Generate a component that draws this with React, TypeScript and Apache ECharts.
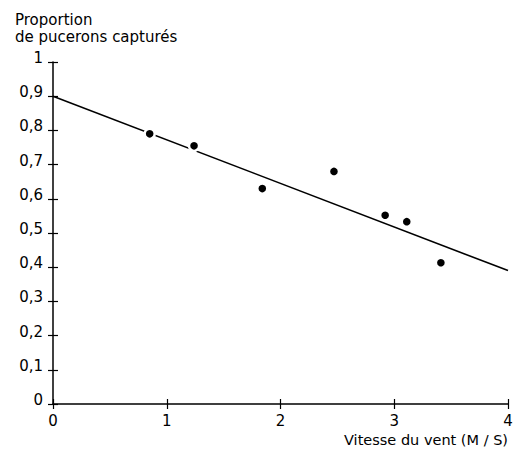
import React, { useEffect, useRef } from "react";
import * as echarts from "echarts";

// Observed points: wind speed (m/s) vs proportion of aphids captured
const windSpeed = [0.85, 1.24, 1.84, 2.47, 2.92, 3.11, 3.41];
const proportion = [0.79, 0.755, 0.63, 0.68, 0.552, 0.533, 0.413];

// Fitted regression line end points
const fitX = [0, 4];
const fitY = [0.9, 0.39];

const yAxisTitle = "Proportion\nde pucerons capturés";
const xAxisTitle = "Vitesse du vent (M / S)";

const FONT = "DejaVu Sans";

const fmt = (v: number) => String(Math.round(v * 10) / 10).replace(".", ",");

export default function App() {
  const ref = useRef<HTMLDivElement>(null);
  useEffect(() => {
    if (!ref.current) return;
    const chart = echarts.init(ref.current, undefined, { renderer: "svg" });
    const axisLineStyle = { color: "#000", width: 1.5 };
    const tickStyle = { color: "#000", width: 1.2 };
    chart.setOption({
      animation: false,
      backgroundColor: "#fff",
      grid: { left: 53, right: 8, top: 62, bottom: 46, containLabel: false },
      xAxis: [
        {
          type: "value",
          min: 0,
          max: 4,
          interval: 1,
          position: "bottom",
          axisLine: { show: true, lineStyle: axisLineStyle },
          axisTick: { show: true, length: 5, lineStyle: tickStyle },
          axisLabel: {
            margin: 9,
            color: "#000",
            fontSize: 15,
            lineHeight: 15,
            fontFamily: FONT,
            formatter: fmt,
          },
          splitLine: { show: false },
        },
        {
          type: "value",
          min: 0,
          max: 4,
          interval: 1,
          position: "bottom",
          axisLine: { show: false },
          axisTick: { show: true, inside: true, length: 5, lineStyle: tickStyle },
          axisLabel: { show: false },
          splitLine: { show: false },
        },
      ],
      yAxis: [
        {
          type: "value",
          min: 0,
          max: 1,
          interval: 0.1,
          position: "left",
          axisLine: { show: true, lineStyle: axisLineStyle },
          axisTick: { show: true, length: 5, lineStyle: tickStyle },
          axisLabel: {
            margin: 10,
            color: "#000",
            fontSize: 15,
            fontFamily: FONT,
            verticalAlign: "bottom",
            lineHeight: 8,
            formatter: fmt,
          },
          splitLine: { show: false },
        },
        {
          type: "value",
          min: 0,
          max: 1,
          interval: 0.1,
          position: "left",
          axisLine: { show: false },
          axisTick: { show: true, inside: true, length: 5, lineStyle: tickStyle },
          axisLabel: { show: false },
          splitLine: { show: false },
        },
      ],
      graphic: [
        {
          type: "text",
          left: 15,
          top: 11,
          style: {
            text: yAxisTitle,
            fontSize: 15,
            lineHeight: 17,
            fontFamily: FONT,
            fill: "#000",
          },
        },
        {
          type: "text",
          right: 8,
          top: 432,
          style: {
            text: xAxisTitle,
            fontSize: 14.5,
            lineHeight: 15,
            fontFamily: FONT,
            fill: "#000",
          },
        },
      ],
      series: [
        {
          type: "line",
          data: fitX.map((x, i) => [x, fitY[i]]),
          showSymbol: false,
          symbol: "none",
          lineStyle: { color: "#000", width: 1.6 },
          silent: true,
          z: 2,
        },
        {
          type: "scatter",
          data: windSpeed.map((x, i) => [x, proportion[i]]),
          symbol: "circle",
          symbolSize: 10,
          itemStyle: { color: "#000", opacity: 1, borderColor: "#fff", borderWidth: 2.4 },
          z: 3,
        },
      ],
    });
    return () => chart.dispose();
  }, []);
  return (
    <div
      ref={ref}
      style={{ position: "fixed", left: 0, top: 0, width: 516, height: 450 }}
    />
  );
}
